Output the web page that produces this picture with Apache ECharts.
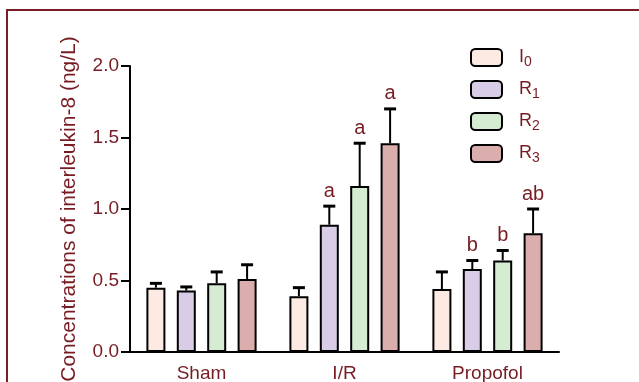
<!DOCTYPE html>
<html>
<head>
<meta charset="utf-8">
<script src="https://cdn.jsdelivr.net/npm/echarts@6/dist/echarts.min.js"></script>
<style>
html,body{margin:0;padding:0;background:#fff;}
#chart{width:639px;height:382px;}
</style>
</head>
<body>
<div id="chart"></div>
<script>
// ---- data ----
var categories = ['Sham', 'I/R', 'Propofol'];
var seriesNames = ['I0', 'R1', 'R2', 'R3'];
var legendMain = ['I', 'R', 'R', 'R'];
var legendSub = ['0', '1', '2', '3'];
var valI0 = [0.45, 0.39, 0.44];
var valR1 = [0.43, 0.89, 0.58];
var valR2 = [0.48, 1.16, 0.64];
var valR3 = [0.51, 1.46, 0.83];
var errI0 = [0.03, 0.06, 0.12];
var errR1 = [0.025, 0.13, 0.06];
var errR2 = [0.08, 0.30, 0.07];
var errR3 = [0.10, 0.24, 0.17];
var sigI0 = ['', '', ''];
var sigR1 = ['', 'a', 'b'];
var sigR2 = ['', 'a', 'b'];
var sigR3 = ['', 'a', 'ab'];
var yTicks = [0, 0.5, 1.0, 1.5, 2.0];

// ---- styles ----
var colors = ['#fdebe3', '#d8cce6', '#d5ebd2', '#dbaeae'];
var textColor = '#761c22';
var fontFam = 'Arial, "Liberation Sans", Helvetica, sans-serif';
var BAR_W = 19;
var BAR_GAP = 0.6;

var values = [valI0, valR1, valR2, valR3];
var errs = [errI0, errR1, errR2, errR3];
var sigs = [sigI0, sigR1, sigR2, sigR3];

var chart = echarts.init(document.getElementById('chart'));

var series = [];
seriesNames.forEach(function (name, si) {
  series.push({
    name: name,
    type: 'bar',
    data: values[si],
    barWidth: BAR_W,
    barGap: (BAR_GAP * 100) + '%',
    itemStyle: { color: colors[si], borderColor: '#000', borderWidth: 2 },
    z: 2
  });
});
seriesNames.forEach(function (name, si) {
  var data = categories.map(function (c, ci) {
    return [ci, values[si][ci], values[si][ci] + errs[si][ci], sigs[si][ci]];
  });
  series.push({
    type: 'custom',
    coordinateSystem: 'cartesian2d',
    data: data,
    encode: { x: 0, y: [1, 2] },
    z: 3,
    silent: true,
    renderItem: function (params, api) {
      var ci = api.value(0);
      var pitch = BAR_W * (1 + BAR_GAP);
      var off = (si - (seriesNames.length - 1) / 2) * pitch;
      var base = api.coord([ci, api.value(1)]);
      var top = api.coord([ci, api.value(2)]);
      var x = base[0] + off;
      var cap = 6;
      var children = [
        { type: 'line', shape: { x1: x, y1: base[1], x2: x, y2: top[1] }, style: { stroke: '#000', lineWidth: 2 } },
        { type: 'line', shape: { x1: x - cap, y1: top[1], x2: x + cap, y2: top[1] }, style: { stroke: '#000', lineWidth: 3 } }
      ];
      var label = data[params.dataIndex][3];
      if (label) {
        children.push({
          type: 'text',
          style: { text: label, x: x, y: top[1] - 5, align: 'center', verticalAlign: 'bottom',
                   fill: textColor, font: '20px ' + fontFam }
        });
      }
      return { type: 'group', children: children };
    }
  });
});

var option = {
  animation: false,
  backgroundColor: '#fff',
  textStyle: { fontFamily: fontFam },
  grid: { left: 130, top: 66, width: 429, bottom: 30, containLabel: false, outerBoundsMode: 'none' },
  legend: {
    orient: 'vertical',
    left: 465,
    top: 41,
    itemWidth: 31,
    itemHeight: 17,
    itemGap: 9,
    data: seriesNames,
    formatter: function (n) {
      var i = seriesNames.indexOf(n);
      return '{m|' + legendMain[i] + '}{s|' + legendSub[i] + '}';
    },
    textStyle: {
      color: textColor,
      rich: {
        m: { fontSize: 18, color: textColor, fontFamily: fontFam, padding: [0, 0, 0, 12], lineHeight: 22 },
        s: { fontSize: 14, color: textColor, fontFamily: fontFam, padding: [9, 0, 0, 0], lineHeight: 22 }
      }
    }
  },
  xAxis: {
    type: 'category',
    data: categories,
    axisLine: { lineStyle: { color: '#000', width: 2 } },
    axisTick: { alignWithLabel: true, length: 7, lineStyle: { color: '#000', width: 2 } },
    axisLabel: { color: textColor, fontSize: 19, margin: 12, fontFamily: fontFam }
  },
  yAxis: {
    type: 'value',
    min: yTicks[0],
    max: yTicks[yTicks.length - 1],
    interval: 0.5,
    name: 'Concentrations of interleukin-8 (ng/L)',
    nameLocation: 'middle',
    nameGap: 50,
    nameTextStyle: { color: textColor, fontSize: 21, fontFamily: fontFam },
    axisLine: { show: true, lineStyle: { color: '#000', width: 2 } },
    axisTick: { show: true, length: 9, lineStyle: { color: '#000', width: 2 } },
    axisLabel: { color: textColor, fontSize: 19, margin: 11, fontFamily: fontFam,
                 formatter: function (v) { return v.toFixed(1); } },
    splitLine: { show: false }
  },
  graphic: [
    { type: 'rect', silent: true, z: 0,
      shape: { x: 7, y: 10, width: 1000, height: 1000 },
      style: { fill: 'none', stroke: '#7a1f26', lineWidth: 2 } }
  ],
  series: series
};
chart.setOption(option);
</script>
</body>
</html>
